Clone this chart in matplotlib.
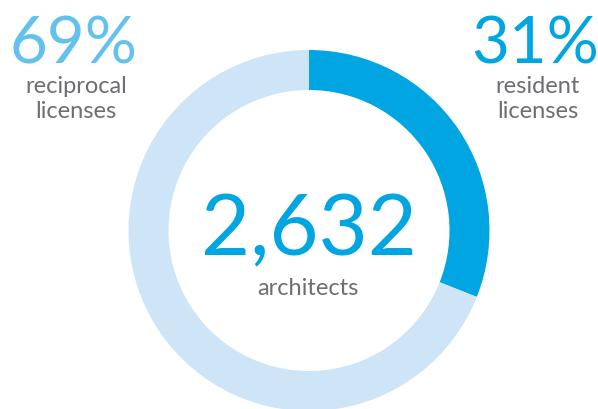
import matplotlib
matplotlib.use("Agg")
import matplotlib.pyplot as plt

# data
shares = [31, 69]
share_labels = ["31%", "69%"]
share_names = [["resident", "licenses"], ["reciprocal", "licenses"]]
total = "2,632"
total_name = "architects"

dark_blue = "#00a5e1"
light_blue = "#cde5f6"
mid_blue = "#63c1ee"
grey = "#6d6e71"
font = "Lato"

fig = plt.figure(figsize=(5.98, 4.10), dpi=100)
ax = fig.add_axes([0, 0, 1, 1])

# donut, drawn in pixel-like coordinates (y up)
ax.pie(
    shares,
    colors=[dark_blue, light_blue],
    startangle=90,
    counterclock=False,
    center=(309, 178.5),
    radius=180.5,
    wedgeprops=dict(width=40, linewidth=0),
)
ax.set_xlim(0, 598)
ax.set_ylim(0, 410)
ax.set_aspect("equal")
ax.axis("off")

txt = dict(ha="center", va="baseline", family=font)

# centre total
ax.text(309, 155, total, fontsize=61, color=dark_blue, **txt)
ax.text(308, 115, total_name, fontsize=17, color=grey, **txt)

# left label (reciprocal)
ax.text(73, 346, share_labels[1], fontsize=47, color=mid_blue, **txt)
ax.text(76, 317, share_names[1][0], fontsize=17, color=grey, **txt)
ax.text(76, 292, share_names[1][1], fontsize=17, color=grey, **txt)

# right label (resident)
ax.text(535, 346, share_labels[0], fontsize=47, color=dark_blue, **txt)
ax.text(538, 317, share_names[0][0], fontsize=17, color=grey, **txt)
ax.text(538, 292, share_names[0][1], fontsize=17, color=grey, **txt)

fig.savefig("out.png", dpi=100)
